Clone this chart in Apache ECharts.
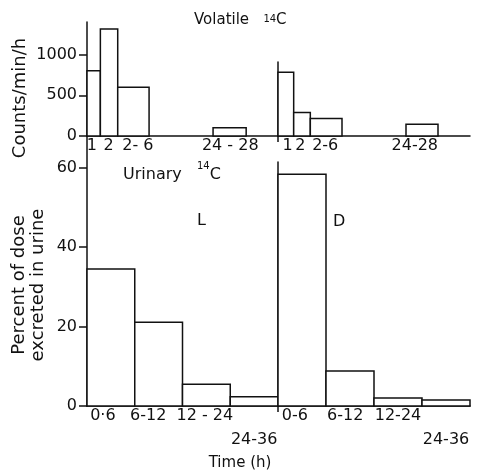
<!DOCTYPE html>
<html><head><meta charset="utf-8">
<script src="https://cdn.jsdelivr.net/npm/echarts@6/dist/echarts.min.js"></script>
<style>html,body{margin:0;padding:0;background:#fff}#c{width:477px;height:472px}</style>
</head><body><div id="c"></div>
<script>
// ---- Volatile 14C (counts/min/h) ----
const volatileLabelsL = ['1', '2', '2- 6', '24 - 28'];
const volatileLabelsD = ['1', '2', '2-6', '24-28'];
// bin edges in x-axis units of each panel (0..12)
const volatileBinsL = [[0, 0.84], [0.84, 1.93], [1.93, 3.9], [7.92, 10]];
const volatileBinsD = [[0, 0.98], [0.98, 2.02], [2.02, 4], [8, 10]];
// where each tick label sits on the x axis (axis units)
const volatileLabelAtL = [0.3, 1.35, 3.2, 9.0];
const volatileLabelAtD = [0.6, 1.4, 2.95, 8.55];
const volatileL = [800, 1315, 600, 100];
const volatileD = [785, 290, 215, 145];
// ---- Urinary 14C (percent of dose) ----
const urinaryLabelsL = ['0·6', '6-12', '12 - 24', '24-36'];
const urinaryLabelsD = ['0-6', '6-12', '12-24', '24-36'];
const urinaryBins = [[0, 3], [3, 6], [6, 9], [9, 12]];
const urinaryLabelAtL = [1.0, 3.85, 7.4, 10.5];
const urinaryLabelAtD = [1.05, 4.2, 7.5, 10.5];
const urinaryL = [34.5, 21.1, 5.5, 2.3];
const urinaryD = [58.4, 8.8, 2.0, 1.5];
// ---- tick labels ----
const countsTicks = [0, 500, 1000];
const percentTicks = [0, 20, 40, 60];

const FONT = 'DejaVu Sans';
const INK = '#111';
const LW = 1.5;

const chart = echarts.init(document.getElementById('c'), null, {renderer: 'canvas'});

// row: 0 = labels on first row, 1 = labels on second (lower) row
function xAxisFor(gi, labelAt, labels, rowOf, row, originTick) {
  const idx = labelAt.map((c, i) => i).filter(i => rowOf(i) === row);
  return {
    type: 'value', gridIndex: gi, min: 0, max: 12, position: 'bottom',
    axisLine: {show: row === 0, onZero: false, lineStyle: {color: INK, width: LW}},
    splitLine: {show: false},
    axisTick: (originTick && row === 0) ? {show: true, customValues: [0], length: 6, lineStyle: {color: INK, width: LW}} : {show: false},
    axisLabel: {
      show: true, customValues: idx.map(i => labelAt[i]), margin: row === 0 ? 2 : 26, lineHeight: 16,
      showMinLabel: true, showMaxLabel: true, hideOverlap: false,
      fontFamily: FONT, fontSize: 16, color: INK,
      formatter: function (v) {
        const i = labelAt.findIndex(c => Math.abs(c - v) < 1e-6);
        return i < 0 ? '' : labels[i];
      }
    }
  };
}

function yAxisFor(gi, max, ticks) {
  const base = {
    type: 'value', gridIndex: gi, min: 0, max: max,
    axisLine: {show: true, lineStyle: {color: INK, width: LW}},
    splitLine: {show: false}
  };
  if (ticks) {
    base.axisTick = {show: true, customValues: ticks, length: 8, lineStyle: {color: INK, width: LW}};
    base.axisLabel = {show: true, customValues: ticks, margin: 10, fontFamily: FONT, fontSize: 16, color: INK,
      showMinLabel: true, showMaxLabel: true, formatter: v => String(v)};
  } else {
    base.axisTick = {show: false};
    base.axisLabel = {show: false};
  }
  return base;
}

function barSeries(idx, bins, values) {
  return {
    type: 'custom', xAxisIndex: idx, yAxisIndex: idx, silent: true, animation: false,
    data: values.map((v, i) => [bins[i][0], bins[i][1], v]),
    encode: {x: [0, 1], y: 2},
    renderItem: function (params, api) {
      const p0 = api.coord([api.value(0), api.value(2)]);
      const p1 = api.coord([api.value(1), 0]);
      return {
        type: 'rect',
        shape: {x: p0[0], y: p0[1], width: p1[0] - p0[0], height: p1[1] - p0[1]},
        style: {fill: '#fff', stroke: INK, lineWidth: LW}
      };
    }
  };
}

const txt = (x, y, text, size, extra) => Object.assign({
  type: 'text', x: x, y: y, silent: true,
  style: Object.assign({text: text, fontFamily: FONT, fontSize: size, fill: INK, align: 'left', verticalAlign: 'middle'}, extra || {})
});
const supRich = (size, cSize, raise) => ({
  a: {fontFamily: FONT, fontSize: size, fill: INK, lineHeight: size + 1, verticalAlign: 'bottom'},
  s: {fontFamily: FONT, fontSize: 10, fill: INK, lineHeight: 10, verticalAlign: 'bottom', padding: [0, 0, raise, 0]},
  c: {fontFamily: FONT, fontSize: cSize, fill: INK, lineHeight: cSize + 1, verticalAlign: 'bottom'}
});

const lowRow = i => (i === 3 ? 1 : 0);
const oneRow = () => 0;

chart.setOption({
  animation: false,
  backgroundColor: '#fff',
  grid: [
    {left: 87, top: 22, width: 191, height: 114},
    {left: 278, top: 62, width: 192, height: 74},
    {left: 87, top: 136, width: 191, height: 270},
    {left: 278, top: 162, width: 192, height: 244}
  ],
  xAxis: [
    xAxisFor(0, volatileLabelAtL, volatileLabelsL, oneRow, 0, false),
    xAxisFor(1, volatileLabelAtD, volatileLabelsD, oneRow, 0, true),
    xAxisFor(2, urinaryLabelAtL, urinaryLabelsL, lowRow, 0, false),
    xAxisFor(3, urinaryLabelAtD, urinaryLabelsD, lowRow, 0, true),
    xAxisFor(2, urinaryLabelAtL, urinaryLabelsL, lowRow, 1, false),
    xAxisFor(3, urinaryLabelAtD, urinaryLabelsD, lowRow, 1, false)
  ],
  yAxis: [
    yAxisFor(0, 1400, countsTicks),
    yAxisFor(1, 910, null),
    yAxisFor(2, 68, percentTicks),
    yAxisFor(3, 61.5, null)
  ],
  series: [
    barSeries(0, volatileBinsL, volatileL),
    barSeries(1, volatileBinsD, volatileD),
    barSeries(2, urinaryBins, urinaryL),
    barSeries(3, urinaryBins, urinaryD)
  ],
  graphic: [
    txt(194, 20, '{a|Volatile   }{s|14}{c|C}', 15, {rich: supRich(15, 15, 4)}),
    txt(123, 174, '{a|Urinary   }{s|14}{c|C}', 16, {rich: supRich(16, 16, 11)}),
    txt(197, 221, 'L', 16),
    txt(333, 222, 'D', 16),
    txt(240, 463, 'Time (h)', 15, {align: 'center'}),
    Object.assign(txt(20, 98, 'Counts/min/h', 18, {align: 'center'}), {rotation: Math.PI / 2}),
    Object.assign(txt(29, 285, 'Percent of dose\nexcreted in urine', 18, {align: 'center', lineHeight: 19}), {rotation: Math.PI / 2})
  ]
});
</script></body></html>
